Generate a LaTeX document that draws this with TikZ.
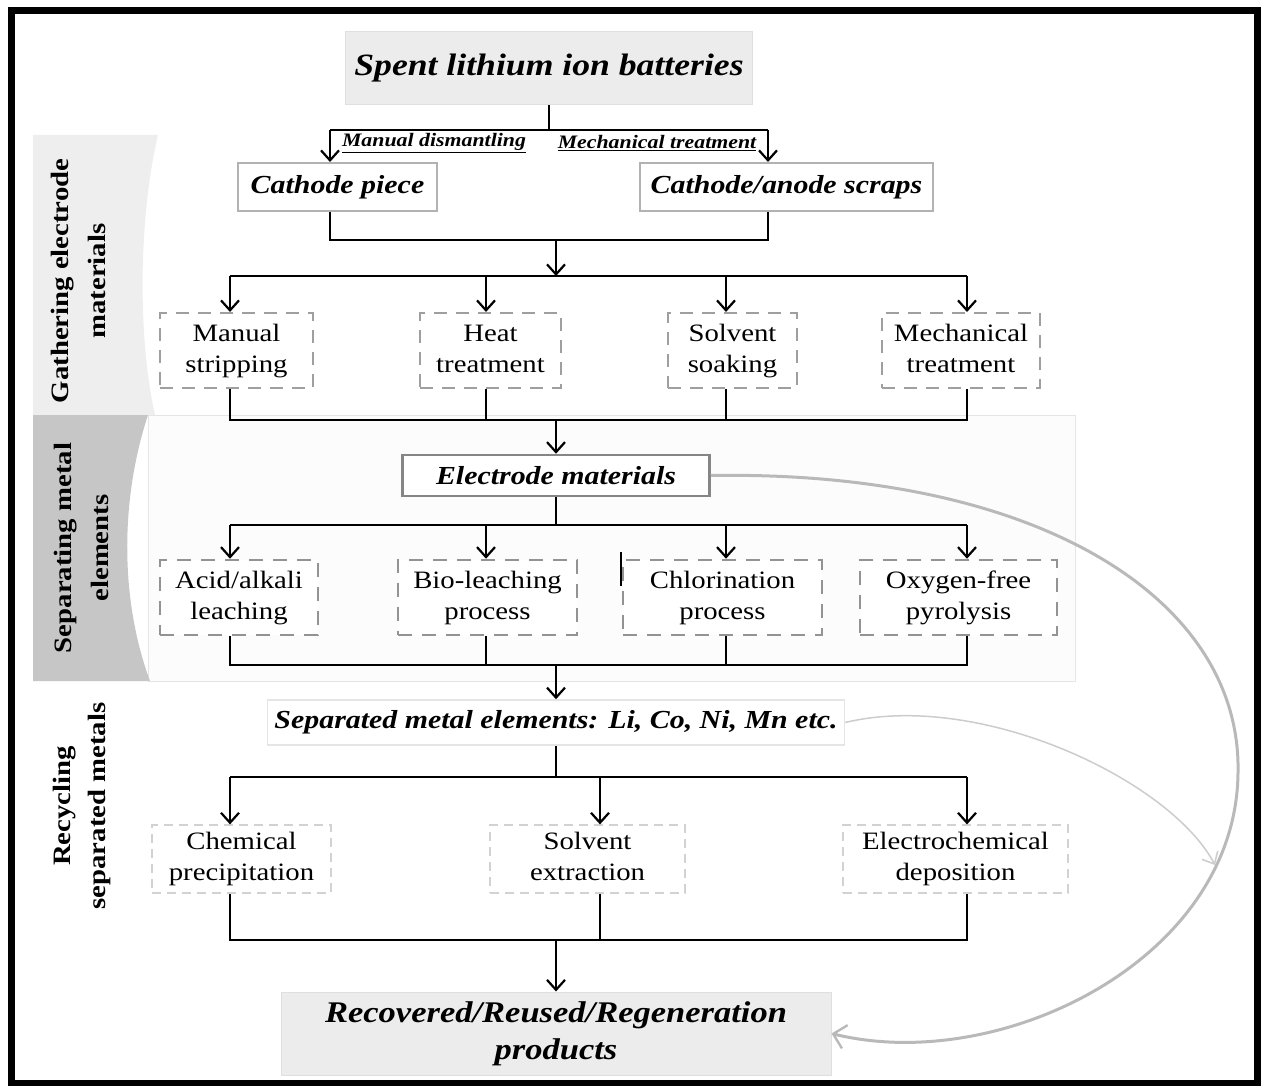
\documentclass[tikz,border=0pt]{standalone}
\usepackage{fontspec}
\setmainfont{Liberation Serif}[FakeStretch=1.15]
\usetikzlibrary{positioning, arrows.meta}

\tikzset{
  link/.style={line width=2.6pt, black},
  arr/.style={link, -{Straight Barb[length=10pt, width=18pt, line width=2.2pt]}},
  headbox/.style={draw=gray!25, fill=gray!15, line width=1pt, inner sep=0pt, align=center},
  stagebox/.style={draw=gray!60, fill=white, line width=2pt, inner sep=0pt,
    font=\fontsize{26}{31}\selectfont\bfseries\itshape},
  gatherbox/.style={draw=gray!75, dashed, dash pattern=on 13pt off 9pt, line width=2pt,
    fill=white, inner sep=0pt, align=center, font=\fontsize{25}{31}\selectfont},
  leachbox/.style={gatherbox, draw=gray!85, line width=2.5pt, dash pattern=on 14pt off 10pt},
  recbox/.style={gatherbox, draw=gray!35, line width=1.2pt, dash pattern=on 9pt off 6pt},
  sidelabel/.style={rotate=90, align=center, inner sep=0pt, font=\fontsize{25}{37}\selectfont\bfseries},
  routelabel/.style={inner sep=0pt, font=\fontsize{19}{22}\selectfont\bfseries\itshape},
  loopback/.style={draw=gray!55, line width=3pt, -{Straight Barb[length=12pt, width=24pt, line width=2.4pt]}},
  loopthin/.style={draw=gray!40, line width=1.5pt, -{Straight Barb[length=10pt, width=18pt, line width=1.5pt]}}
}

\begin{document}
\begin{tikzpicture}[x=1pt, y=-1pt]
  \useasboundingbox (0,0) rectangle (1261,1086);

  % section backgrounds
  \draw[draw=gray!20, fill=gray!2, line width=1pt] (148,415) rectangle (1075,681);
  \fill[gray!13] (33,135) -- (158,135) .. controls (138,220) and (138,340) .. (155,415) -- (33,415) -- cycle;
  \fill[gray!45] (33,415) -- (148,415) .. controls (120,500) and (120,600) .. (150,681) -- (33,681) -- cycle;

  \node[sidelabel] (lab1) at (78,281) {Gathering electrode\\materials};
  \node[sidelabel] (lab2) at (81,548) {Separating metal\\elements};
  \node[sidelabel, font=\fontsize{25}{35}\selectfont\bfseries] (lab3) at (82,806) {Recycling\\separated metals};

  % top
  \node[headbox, minimum width=407pt, minimum height=73pt, font=\fontsize{31}{36}\selectfont\bfseries\itshape] (spent) at (549,68.5) {Spent lithium ion batteries};

  \coordinate (cL) at (330,130);
  \coordinate (cR) at (768,130);
  \node[stagebox, minimum width=199pt, minimum height=48pt] (piece) at (337.5,187) {Cathode piece};
  \node[stagebox, minimum width=293pt, minimum height=48pt] (scraps) at (786.5,187) {Cathode/anode scraps};

  \draw[link] (spent.south) -- (spent.south |- cL);
  \draw[link] (cL) -- (cR);
  \draw[arr] (cL) -- (cL |- piece.north);
  \draw[arr] (cR) -- (cR |- scraps.north);
  \node[routelabel] (manual) at (434,143) {\underline{Manual dismantling}};
  \node[routelabel] (mechan) at (657,143) {\underline{Mechanical treatment}};

  % gathering
  \coordinate (m1) at (556,240);
  \coordinate (b1) at (556,276);
  \node[gatherbox, minimum width=153pt, minimum height=75pt] (strip) at (236.5,350.5) {Manual\strut\\stripping\strut};
  \node[gatherbox, minimum width=141pt, minimum height=75pt] (heat) at (490.5,350.5) {Heat\strut\\treatment\strut};
  \node[gatherbox, minimum width=129pt, minimum height=75pt] (soak) at (732.5,350.5) {Solvent\strut\\soaking\strut};
  \node[gatherbox, minimum width=158pt, minimum height=75pt] (mech) at (961,350.5) {Mechanical\strut\\treatment\strut};

  \draw[link] (piece.south -| cL) |- (m1) -| (scraps.south -| cR);
  \draw[arr] (m1) -- (b1);
  \coordinate (g1) at (230,276);
  \coordinate (g2) at (486,276);
  \coordinate (g3) at (726,276);
  \coordinate (g4) at (967,276);
  \draw[link] (g1) -- (g4);
  \draw[arr] (g1) -- (g1 |- strip.north);
  \draw[arr] (g2) -- (g2 |- heat.north);
  \draw[arr] (g3) -- (g3 |- soak.north);
  \draw[arr] (g4) -- (g4 |- mech.north);

  % separating
  \coordinate (m2) at (556,420);
  \node[stagebox, draw=gray!95, line width=2.5pt, minimum width=307pt, minimum height=41pt] (elec) at (556,475.5) {Electrode materials};
  \draw[link] (g1 |- strip.south) |- (m2) -| (g4 |- mech.south);
  \draw[link] (g2 |- heat.south) -- (g2 |- m2);
  \draw[link] (g3 |- soak.south) -- (g3 |- m2);
  \draw[arr] (m2) -- (elec.north);

  \coordinate (s1) at (230,525);
  \coordinate (s2) at (486,525);
  \coordinate (s3) at (726,525);
  \coordinate (s4) at (967,525);
  \node[leachbox, minimum width=158pt, minimum height=75pt] (acid) at (239,597.5) {Acid/alkali\strut\\leaching\strut};
  \node[leachbox, minimum width=179pt, minimum height=75pt] (bio) at (487.5,597.5) {Bio-leaching\strut\\process\strut};
  \node[leachbox, minimum width=199pt, minimum height=75pt] (chlor) at (722.5,597.5) {Chlorination\strut\\process\strut};
  \node[leachbox, minimum width=197pt, minimum height=75pt] (oxy) at (958.5,597.5) {Oxygen-free\strut\\pyrolysis\strut};

  \draw[link] (elec.south) -- (elec.south |- s1);
  \draw[link] (s1) -- (s4);
  \draw[arr] (s1) -- (s1 |- acid.north);
  \draw[arr] (s2) -- (s2 |- bio.north);
  \draw[arr] (s3) -- (s3 |- chlor.north);
  \draw[arr] (s4) -- (s4 |- oxy.north);
  \draw[line width=2.5pt] (chlor.north west) ++(-1,-7) -- ++(0,34);

  % recycling
  \coordinate (m3) at (556,665);
  \node[stagebox, draw=gray!20, line width=1.5pt, minimum width=577pt, minimum height=45pt] (sep) at (556,722.5) {Separated metal elements: Li, Co, Ni, Mn etc.};
  \draw[link] (s1 |- acid.south) |- (m3) -| (s4 |- oxy.south);
  \draw[link] (s2 |- bio.south) -- (s2 |- m3);
  \draw[link] (s3 |- chlor.south) -- (s3 |- m3);
  \draw[arr] (m3) -- (sep.north);

  \coordinate (r1) at (230,777);
  \coordinate (r2) at (600,777);
  \coordinate (r3) at (967,777);
  \node[recbox, minimum width=179pt, minimum height=68pt] (chem) at (241.5,859) {Chemical\strut\\precipitation\strut};
  \node[recbox, minimum width=195pt, minimum height=68pt] (extr) at (587.5,859) {Solvent\strut\\extraction\strut};
  \node[recbox, minimum width=225pt, minimum height=68pt] (depo) at (955.5,859) {Electrochemical\strut\\deposition\strut};

  \draw[link] (sep.south) -- (sep.south |- r1);
  \draw[link] (r1) -- (r3);
  \draw[arr] (r1) -- (r1 |- chem.north);
  \draw[arr] (r2) -- (r2 |- extr.north);
  \draw[arr] (r3) -- (r3 |- depo.north);

  \coordinate (m4) at (556,940);
  \node[headbox, minimum width=550pt, minimum height=83pt, font=\fontsize{30}{37}\selectfont\bfseries\itshape] (rec) at (556,1033.5) {Recovered/Reused/Regeneration\\products};
  \draw[link] (r1 |- chem.south) |- (m4) -| (r3 |- depo.south);
  \draw[link] (r2 |- extr.south) -- (r2 |- m4);
  \draw[arr] (m4) -- (rec.north);

  % direct routes
  \draw[loopback] (elec.east) .. controls (1040,470) and (1242,600) .. (1238,773)
    .. controls (1236,960) and (1000,1075) .. (rec.east);
  \coordinate (hit) at (1215,865);
  \draw[loopthin] (sep.east) .. controls (980,690) and (1170,780) .. (hit);

  % frame
  \draw[line width=7pt] (11.5,10.5) rectangle (1257.5,1083);
\end{tikzpicture}
\end{document}
